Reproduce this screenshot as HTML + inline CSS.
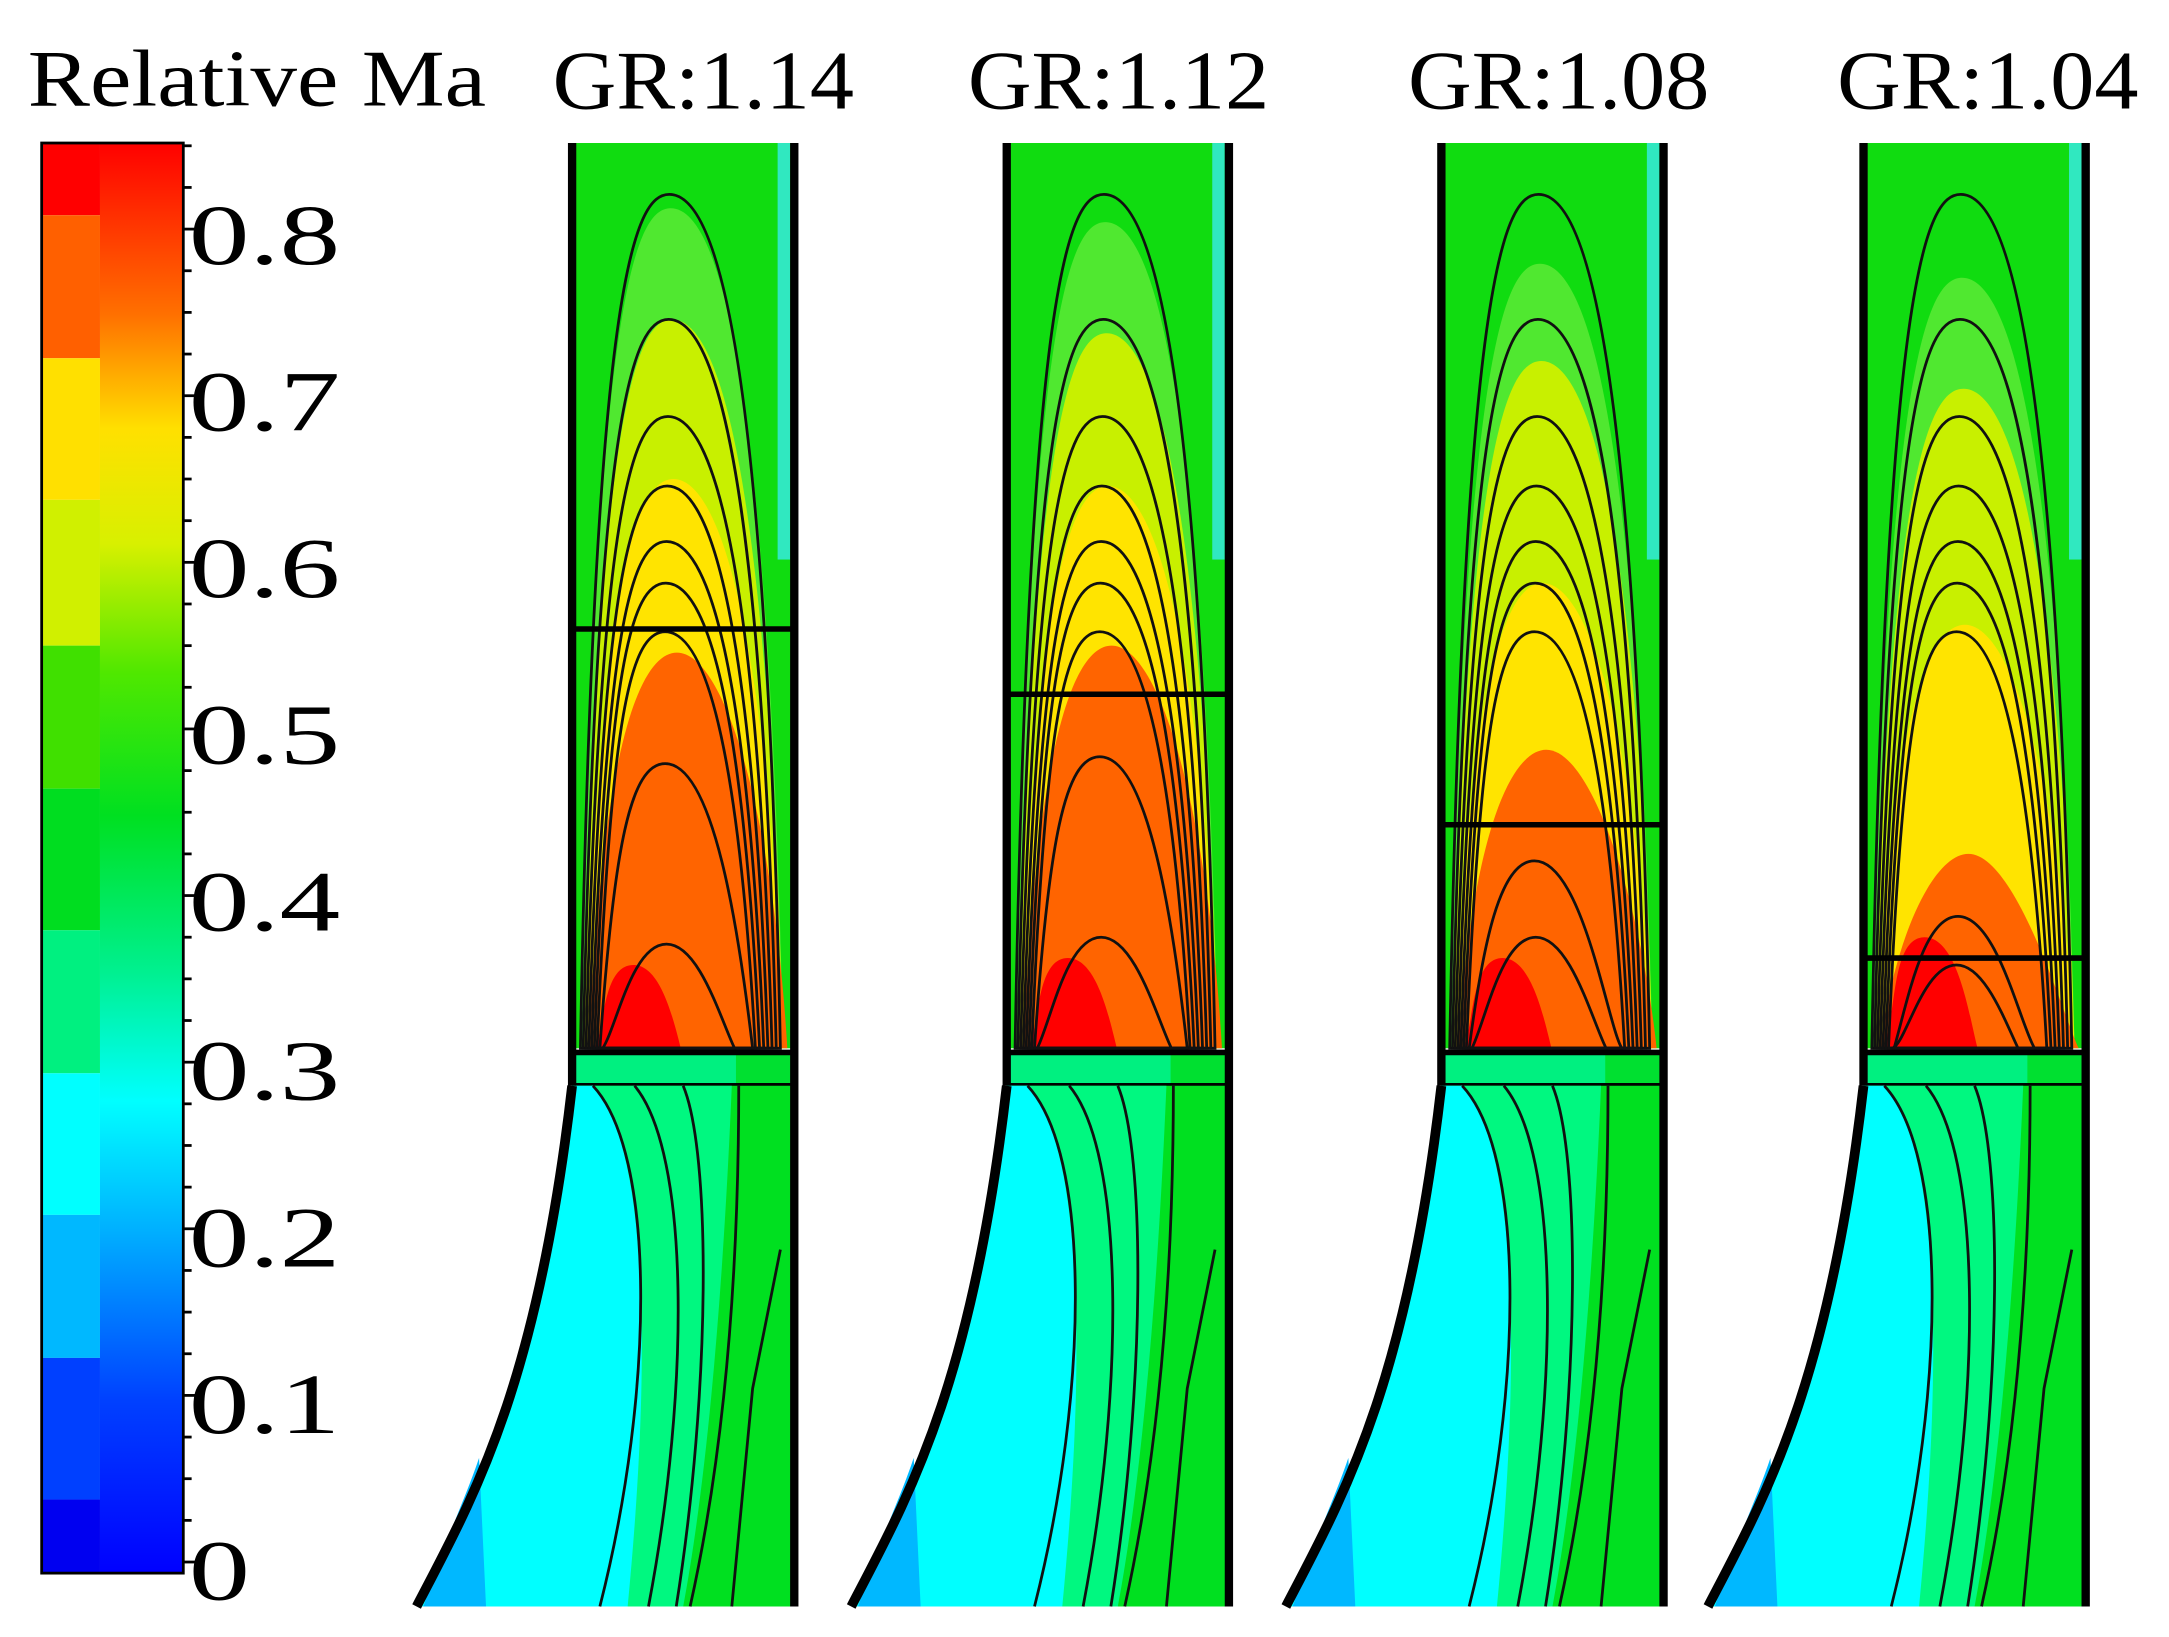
<!DOCTYPE html>
<html><head><meta charset="utf-8"><style>
html,body{margin:0;padding:0;background:#fff;}
svg{display:block;}
text{font-family:"Liberation Serif",serif;fill:#000;}
</style></head><body>
<svg id="s" width="2169" height="1637" viewBox="0 0 1562 1179" preserveAspectRatio="none" xmlns="http://www.w3.org/2000/svg">
<defs>
<linearGradient id="cb" x1="0" y1="1" x2="0" y2="0">
<stop offset="0" stop-color="#0000ff"/>
<stop offset="0.12" stop-color="#0040ff"/>
<stop offset="0.24" stop-color="#00b0ff"/>
<stop offset="0.33" stop-color="#00ffff"/>
<stop offset="0.42" stop-color="#00f090"/>
<stop offset="0.53" stop-color="#00e020"/>
<stop offset="0.63" stop-color="#50e800"/>
<stop offset="0.72" stop-color="#d8f000"/>
<stop offset="0.8" stop-color="#ffe000"/>
<stop offset="0.88" stop-color="#ff7000"/>
<stop offset="1" stop-color="#ff0000"/>
</linearGradient>
</defs>
<text x="20" y="76" font-size="58" textLength="330" lengthAdjust="spacingAndGlyphs">Relative Ma</text>
<text x="398" y="78" font-size="60" textLength="217" lengthAdjust="spacingAndGlyphs">GR:1.14</text>
<text x="697" y="78" font-size="60" textLength="217" lengthAdjust="spacingAndGlyphs">GR:1.12</text>
<text x="1014" y="78" font-size="60" textLength="217" lengthAdjust="spacingAndGlyphs">GR:1.08</text>
<text x="1323" y="78" font-size="60" textLength="217" lengthAdjust="spacingAndGlyphs">GR:1.04</text>
<g id="cbar"></g>
<g font-size="62">
<text x="136" y="190" textLength="109" lengthAdjust="spacingAndGlyphs">0.8</text>
<text x="136" y="310" textLength="109" lengthAdjust="spacingAndGlyphs">0.7</text>
<text x="136" y="430" textLength="109" lengthAdjust="spacingAndGlyphs">0.6</text>
<text x="136" y="550" textLength="109" lengthAdjust="spacingAndGlyphs">0.5</text>
<text x="136" y="670" textLength="109" lengthAdjust="spacingAndGlyphs">0.4</text>
<text x="136" y="792" textLength="109" lengthAdjust="spacingAndGlyphs">0.3</text>
<text x="136" y="912" textLength="109" lengthAdjust="spacingAndGlyphs">0.2</text>
<text x="136" y="1032" textLength="109" lengthAdjust="spacingAndGlyphs">0.1</text>
<text x="136" y="1152" textLength="44" lengthAdjust="spacingAndGlyphs">0</text>
</g>
<g id="panels"></g>
</svg>
<script>
var NS="http://www.w3.org/2000/svg";
function el(p,t,a){var e=document.createElementNS(NS,t);for(var k in a)e.setAttribute(k,a[k]);p.appendChild(e);return e;}
var cb=document.getElementById("cbar");
var steps=["#ff0000","#ff6000","#ffe000","#d0f000","#40e000","#00dd20","#00f080","#00ffff","#00b8ff","#0040ff","#0000f0"];
var ys=[103,155,258,360,465,568,670,773,875,978,1080,1133];
for(var i=0;i<11;i++)el(cb,"rect",{x:30,y:ys[i],width:42,height:ys[i+1]-ys[i],fill:steps[i]});
el(cb,"rect",{x:72,y:103,width:60,height:1030,fill:"url(#cb)"});
el(cb,"rect",{x:30,y:103,width:102,height:1030,fill:"none",stroke:"#000","stroke-width":2});
for(var v=0;v<=86;v+=2.5){var y=1125-v/10*120;if(y<103)break;var big=(v%10==0);el(cb,"line",{x1:132,x2:big?142:138,y1:y,y2:y,stroke:"#000","stroke-width":2});}
var P=document.getElementById("panels");
var panels=[
 {x:412,line:453,yg:150,yl:230,ye:345,or:470,red:695},
 {x:725,line:500,yg:160,yl:240,ye:350,or:465,red:690},
 {x:1038,line:594,yg:190,yl:260,ye:420,or:540,red:690},
 {x:1342,line:690,yg:200,yl:280,ye:450,or:615,red:675}];
function arch(g,x0,w,l,r,top,fill,stroke){
 var a=x0+l,b=x0+r,c=(a+b)/2-8;
 return el(g,"path",{d:"M"+a+" 755 C"+(a+10)+" "+(top+60)+" "+(c-25)+" "+top+" "+c+" "+top+" C"+(c+35)+" "+top+" "+(b-10)+" "+(top+120)+" "+b+" 755 Z",fill:fill||"none",stroke:stroke||"none","stroke-width":2});
}
panels.forEach(function(p){
 var g=el(P,"g",{}),x0=p.x,W=160;
 el(g,"rect",{x:x0,y:103,width:W,height:652,fill:"#10dc10"});
 el(g,"rect",{x:x0+148,y:103,width:9,height:300,fill:"#30e8c0"});
 arch(g,x0,W,6,152,p.yg,"#50e830");
 arch(g,x0,W,8,152,p.yl,"#c8f000");
 arch(g,x0,W,10,152,p.ye,"#ffe400");
 arch(g,x0,W,12,155,p.or,"#ff6400");
 arch(g,x0,W,14,90,p.red,"#ff0000");
 var tops=[140,230,300,350,390,420,455,p.or+80,p.red-15];
 tops.forEach(function(t,i){var r=i<7?150-i*3:130;arch(g,x0,W,6+i*2,r,t,null,"#111");});
 el(g,"line",{x1:x0,x2:x0+W,y1:p.line,y2:p.line,stroke:"#000","stroke-width":4});
 el(g,"rect",{x:x0,y:758,width:W,height:24,fill:"#00f080"});
 el(g,"rect",{x:x0+118,y:758,width:42,height:24,fill:"#00e030"});
 el(g,"line",{x1:x0,x2:x0+W,y1:758,y2:758,stroke:"#000","stroke-width":4});
 el(g,"line",{x1:x0,x2:x0+W,y1:782,y2:782,stroke:"#000","stroke-width":4});
 var bl=x0-112;
 var outline="M"+x0+" 782 L"+(x0+W)+" 782 L"+(x0+W)+" 1157 L"+bl+" 1157 C"+(bl+40)+" 1080 "+(x0-25)+" 1000 "+x0+" 782 Z";
 el(g,"path",{d:outline,fill:"#00e020"});
 el(g,"path",{d:"M"+x0+" 782 L"+(x0+115)+" 782 C"+(x0+110)+" 900 "+(x0+100)+" 1050 "+(x0+80)+" 1157 L"+bl+" 1157 C"+(bl+40)+" 1080 "+(x0-25)+" 1000 "+x0+" 782 Z",fill:"#00f880"});
 el(g,"path",{d:"M"+x0+" 782 L"+(x0+15)+" 782 C"+(x0+50)+" 820 "+(x0+60)+" 950 "+(x0+40)+" 1157 L"+bl+" 1157 C"+(bl+40)+" 1080 "+(x0-25)+" 1000 "+x0+" 782 Z",fill:"#00ffff"});
 el(g,"path",{d:"M"+(bl+5)+" 1157 C"+(bl+20)+" 1110 "+(bl+35)+" 1080 "+(bl+45)+" 1050 L"+(bl+50)+" 1157 Z",fill:"#00b8ff"});
 [[15,60,40],[45,85,75],[80,100,95],[120,120,105]].forEach(function(c){
  el(g,"path",{d:"M"+(x0+c[0])+" 782 C"+(x0+c[1])+" 830 "+(x0+c[1])+" 1000 "+(x0+c[2]-20)+" 1157",fill:"none",stroke:"#111","stroke-width":2});});
 el(g,"path",{d:"M"+(x0+150)+" 900 L"+(x0+130)+" 1000 L"+(x0+115)+" 1157",fill:"none",stroke:"#111","stroke-width":2});
 el(g,"line",{x1:x0,x2:x0,y1:103,y2:782,stroke:"#000","stroke-width":6});
 el(g,"line",{x1:x0+W,x2:x0+W,y1:103,y2:1157,stroke:"#000","stroke-width":6});
 el(g,"path",{d:"M"+x0+" 782 C"+(x0-25)+" 1000 "+(bl+40)+" 1080 "+bl+" 1157",fill:"none",stroke:"#000","stroke-width":7});
});
</script>
</body></html>
